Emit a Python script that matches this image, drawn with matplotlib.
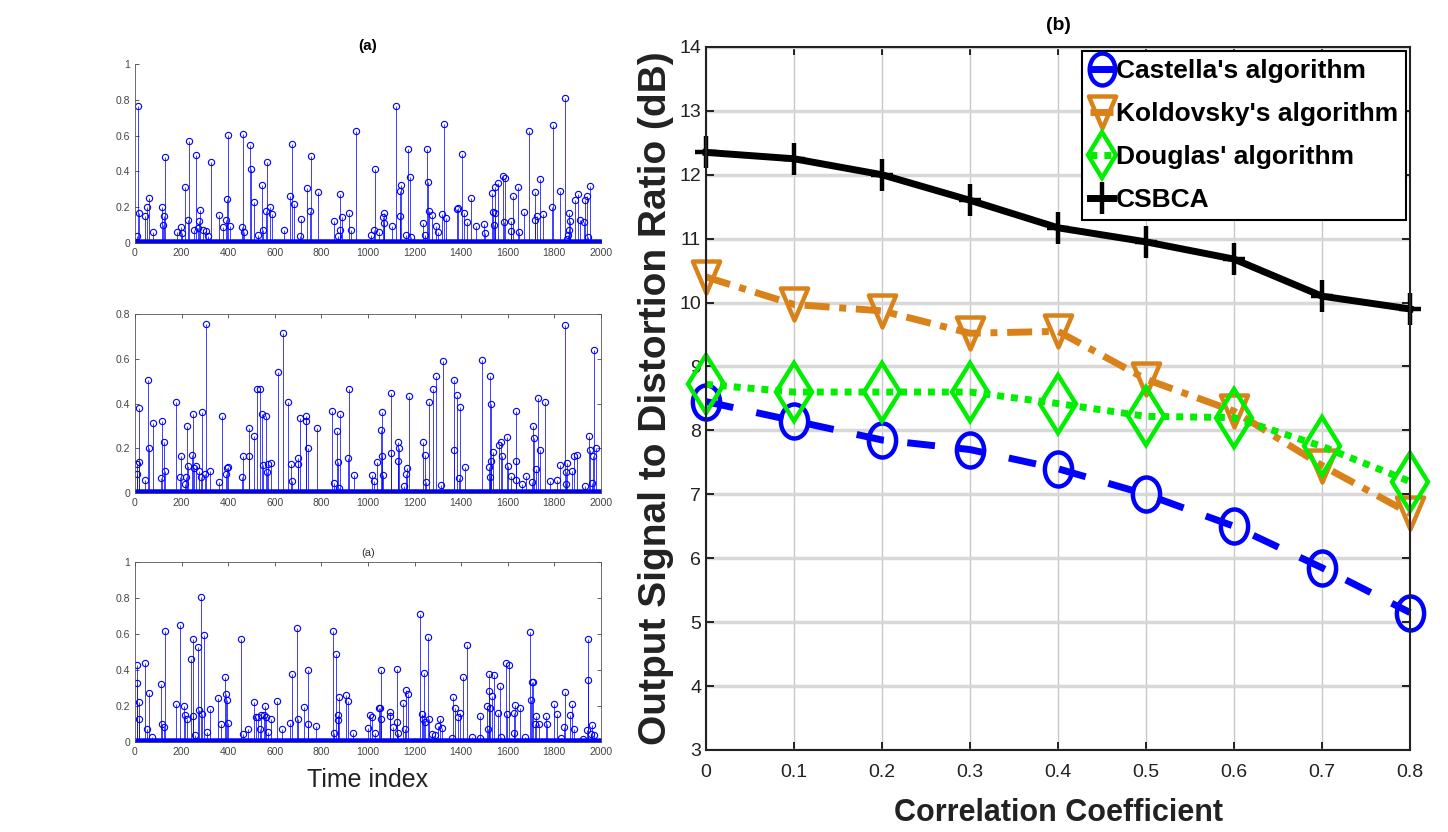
import matplotlib
matplotlib.use('Agg')
import matplotlib.pyplot as plt
import numpy as np
from matplotlib.path import Path

# --- left panel (a): sparse source signals, (index, amplitude) of visible stems ---
n_samples = 2000

top_idx = [11, 19, 19, 7, 7, 43, 53, 61, 79, 114, 126, 121, 129, 179, 196, 203, 216, 216, 226, 231,
           253, 261, 273, 280, 271, 293, 304, 313, 326, 361, 379, 390, 396, 401, 407, 460, 464, 469,
           493, 496, 513, 529, 547, 550, 564, 567, 581, 590, 639, 664, 674, 681, 714, 707, 740, 750,
           754, 787, 854, 871, 879, 881, 887, 919, 927, 950, 1014, 1024, 1030, 1046, 1064, 1071,
           1069, 1104, 1119, 1136, 1140, 1138, 1164, 1173, 1180, 1183, 1236, 1246, 1253, 1257, 1260,
           1274, 1293, 1301, 1316, 1326, 1336, 1381, 1387, 1404, 1411, 1426, 1443, 1464, 1497, 1503,
           1533, 1536, 1540, 1544, 1547, 1560, 1579, 1589, 1586, 1614, 1612, 1623, 1646, 1647, 1671,
           1690, 1719, 1717, 1727, 1739, 1753, 1790, 1793, 1824, 1846, 1853, 1890, 1900, 1909, 1864,
           1866, 1862, 1857, 1926, 1933, 1939, 1954, 1946]
top_val = [0.766, 0.25, 0.17, 0.13, 0.04, 0.15, 0.2, 0.25, 0.06, 0.2, 0.15, 0.1, 0.48, 0.06, 0.09,
           0.055, 0.44, 0.31, 0.13, 0.57, 0.075, 0.49, 0.125, 0.185, 0.085, 0.075, 0.065, 0.04, 0.455,
           0.155, 0.09, 0.13, 0.245, 0.605, 0.095, 0.09, 0.61, 0.06, 0.55, 0.415, 0.23, 0.045, 0.325,
           0.075, 0.18, 0.45, 0.2, 0.16, 0.07, 0.265, 0.555, 0.215, 0.135, 0.04, 0.305, 0.18, 0.485,
           0.285, 0.12, 0.04, 0.07, 0.275, 0.145, 0.17, 0.07, 0.625, 0.045, 0.07, 0.415, 0.06, 0.145,
           0.17, 0.11, 0.095, 0.766, 0.29, 0.325, 0.15, 0.045, 0.525, 0.37, 0.035, 0.11, 0.045, 0.525,
           0.34, 0.18, 0.155, 0.095, 0.06, 0.16, 0.665, 0.14, 0.19, 0.195, 0.5, 0.165, 0.115, 0.25,
           0.095, 0.105, 0.055, 0.28, 0.175, 0.1, 0.17, 0.31, 0.335, 0.375, 0.365, 0.115, 0.125,
           0.065, 0.265, 0.315, 0.06, 0.175, 0.626, 0.285, 0.13, 0.152, 0.355, 0.16, 0.2, 0.66, 0.29,
           0.812, 0.02, 0.24, 0.275, 0.13, 0.17, 0.12, 0.075, 0.045, 0.115, 0.24, 0.265, 0.32, 0.035]

mid_idx = [7, 8, 19, 18, 54, 61, 43, 76, 117, 110, 124, 127, 175, 197, 193, 215, 219, 222, 229, 243,
           247, 253, 262, 276, 282, 289, 300, 307, 322, 359, 375, 390, 393, 400, 459, 462, 489, 490,
           511, 525, 537, 544, 551, 561, 565, 572, 584, 612, 634, 658, 668, 675, 698, 699, 708, 733,
           734, 744, 783, 847, 856, 866, 873, 880, 877, 913, 920, 941, 1016, 1026, 1037, 1056, 1060,
           1061, 1063, 1099, 1097, 1129, 1132, 1130, 1155, 1163, 1169, 1175, 1235, 1245, 1248, 1263,
           1280, 1290, 1312, 1323, 1369, 1370, 1381, 1395, 1392, 1416, 1488, 1519, 1524, 1526, 1527,
           1530, 1538, 1562, 1573, 1574, 1599, 1602, 1612, 1635, 1636, 1634, 1660, 1678, 1710, 1711,
           1705, 1721, 1731, 1738, 1762, 1781, 1824, 1812, 1845, 1853, 1850, 1851, 1874, 1886, 1896,
           1932, 1950, 1953, 1960, 1964, 1970, 1979]
mid_val = [0.13, 0.085, 0.14, 0.38, 0.505, 0.2, 0.06, 0.315, 0.32, 0.065, 0.23, 0.1, 0.405, 0.165,
           0.07, 0.04, 0.07, 0.3, 0.12, 0.17, 0.355, 0.11, 0.12, 0.1, 0.07, 0.36, 0.085, 0.755, 0.1,
           0.05, 0.345, 0.085, 0.11, 0.115, 0.07, 0.165, 0.29, 0.165, 0.255, 0.465, 0.465, 0.355,
           0.125, 0.345, 0.095, 0.13, 0.135, 0.54, 0.715, 0.405, 0.13, 0.055, 0.155, 0.13, 0.335,
           0.345, 0.32, 0.2, 0.29, 0.365, 0.045, 0.275, 0.14, 0.355, 0.02, 0.155, 0.465, 0.08, 0.08,
           0.055, 0.14, 0.28, 0.36, 0.165, 0.08, 0.18, 0.445, 0.23, 0.2, 0.145, 0.03, 0.085, 0.11,
           0.435, 0.23, 0.17, 0.05, 0.405, 0.465, 0.525, 0.035, 0.59, 0.505, 0.19, 0.44, 0.385, 0.065,
           0.115, 0.595, 0.115, 0.07, 0.525, 0.4, 0.145, 0.185, 0.215, 0.23, 0.165, 0.25, 0.12, 0.075,
           0.365, 0.145, 0.06, 0.04, 0.075, 0.3, 0.245, 0.05, 0.105, 0.425, 0.19, 0.405, 0.055, 0.125,
           0.057, 0.75, 0.135, 0.095, 0.04, 0.1, 0.165, 0.17, 0.03, 0.255, 0.19, 0.045, 0.165, 0.64,
           0.2]

bot_idx = [7, 8, 19, 18, 43, 53, 62, 75, 110, 118, 126, 129, 175, 194, 212, 215, 222, 242, 248, 247,
           258, 271, 277, 284, 288, 298, 308, 320, 358, 370, 387, 391, 397, 398, 454, 462, 487, 509,
           520, 530, 541, 537, 552, 559, 563, 571, 584, 609, 631, 667, 674, 695, 700, 727, 743, 744,
           777, 849, 853, 863, 872, 873, 877, 907, 915, 936, 1002, 1011, 1018, 1032, 1049, 1053, 1054,
           1058, 1094, 1095, 1108, 1123, 1125, 1128, 1151, 1158, 1164, 1171, 1223, 1230, 1237, 1240,
           1243, 1257, 1261, 1276, 1286, 1301, 1309, 1319, 1362, 1365, 1373, 1386, 1395, 1409, 1426,
           1448, 1481, 1482, 1513, 1517, 1519, 1520, 1523, 1533, 1541, 1558, 1566, 1570, 1594, 1595,
           1606, 1627, 1628, 1630, 1653, 1673, 1696, 1702, 1703, 1707, 1720, 1717, 1735, 1763, 1770,
           1799, 1813, 1828, 1842, 1845, 1867, 1878, 1885, 1921, 1940, 1943, 1946, 1957, 1961, 1971]
bot_val = [0.425, 0.33, 0.22, 0.13, 0.44, 0.07, 0.27, 0.03, 0.32, 0.1, 0.085, 0.615, 0.21, 0.65,
           0.2, 0.15, 0.13, 0.46, 0.57, 0.145, 0.04, 0.53, 0.175, 0.805, 0.155, 0.595, 0.055, 0.185,
           0.245, 0.1, 0.36, 0.265, 0.235, 0.107, 0.57, 0.045, 0.07, 0.22, 0.14, 0.14, 0.15, 0.07,
           0.148, 0.2, 0.14, 0.055, 0.125, 0.23, 0.07, 0.107, 0.375, 0.635, 0.125, 0.195, 0.4, 0.1,
           0.087, 0.615, 0.05, 0.49, 0.148, 0.12, 0.25, 0.26, 0.225, 0.05, 0.078, 0.152, 0.14, 0.052,
           0.19, 0.19, 0.13, 0.4, 0.167, 0.143, 0.083, 0.407, 0.11, 0.05, 0.218, 0.07, 0.29, 0.265,
           0.71, 0.155, 0.125, 0.385, 0.11, 0.583, 0.13, 0.046, 0.037, 0.09, 0.13, 0.08, 0.024, 0.25,
           0.19, 0.14, 0.163, 0.36, 0.54, 0.03, 0.145, 0.024, 0.2, 0.074, 0.375, 0.283, 0.19, 0.254,
           0.37, 0.163, 0.31, 0.03, 0.44, 0.154, 0.43, 0.16, 0.05, 0.203, 0.19, 0.03, 0.61, 0.235,
           0.333, 0.333, 0.143, 0.102, 0.102, 0.143, 0.102, 0.21, 0.154, 0.022, 0.083, 0.28, 0.148,
           0.213, 0.074, 0.018, 0.068, 0.346, 0.57, 0.046, 0.093, 0.037]

# --- right panel (b): output SDR vs correlation coefficient ---
corr = [0, 0.1, 0.2, 0.3, 0.4, 0.5, 0.6, 0.7, 0.8]
castella = [8.45, 8.15, 7.85, 7.7, 7.4, 7.0, 6.5, 5.85, 5.15]
koldovsky = [10.4, 9.97, 9.87, 9.52, 9.55, 8.8, 8.3, 7.45, 6.7]
douglas = [8.72, 8.6, 8.6, 8.6, 8.42, 8.22, 8.2, 7.75, 7.2]
csbca = [12.35, 12.25, 12.0, 11.6, 11.17, 10.95, 10.68, 10.1, 9.9]

plt.rcParams['font.family'] = ['Liberation Sans', 'DejaVu Sans']

fig = plt.figure(figsize=(14.48, 8.32), dpi=100)


def full_signal(idx, val):
    s = np.zeros(n_samples)
    s[np.array(idx)] = np.array(val)
    return s


def stem_panel(rect, idx, val, ymax, box=True):
    ax = fig.add_axes(rect)
    sig = full_signal(idx, val)
    ml, sl, bl = ax.stem(np.arange(n_samples), sig, basefmt=' ')
    plt.setp(sl, color='#0000ff', linewidth=0.7, alpha=0.75)
    plt.setp(ml, color='#0000ff', markersize=4.5, markerfacecolor='none', markeredgewidth=0.8)
    ax.set_xlim(0, 2000)
    ax.set_ylim(0, ymax)
    ax.set_xticks(np.arange(0, 2001, 200))
    ax.set_yticks(np.round(np.arange(0, ymax + 0.01, 0.2), 1))
    ax.set_yticklabels([f'{t:g}' for t in ax.get_yticks()])
    ax.tick_params(direction='in', labelsize=7.5, colors='#444444', length=3, width=0.6)
    for sp in ax.spines.values():
        sp.set_color('#555555')
        sp.set_linewidth(0.6)
    if box:
        ax.tick_params(top=True, right=True)
    else:
        ax.spines['top'].set_visible(False)
        ax.spines['right'].set_visible(False)
    return ax


ax1 = stem_panel([0.0932, 0.708, 0.3218, 0.215], top_idx, top_val, 1.0, box=False)
ax1.set_title('(a)', fontsize=11, fontweight='bold', pad=10)
ax2 = stem_panel([0.0932, 0.4075, 0.3218, 0.215], mid_idx, mid_val, 0.8)
ax3 = stem_panel([0.0932, 0.1082, 0.3218, 0.2163], bot_idx, bot_val, 1.0)
ax3.set_title('(a)', fontsize=8, pad=4, color='#333333')
ax3.set_xlabel('Time index', fontsize=18, color='#222222', labelpad=8)

# --- right panel ---
axb = fig.add_axes([0.4876, 0.0986, 0.4862, 0.845])

# the exported figure is stretched vertically, so markers are taller than wide
circ = Path.unit_circle()
ellipse = Path(circ.vertices * np.array([0.8, 1.0]), circ.codes)
tall_plus = Path([(-0.68, 0), (0.68, 0), (0, -1), (0, 1)],
                 [Path.MOVETO, Path.LINETO, Path.MOVETO, Path.LINETO])
tri_down = Path([(0, -1), (-0.85, 1), (0.85, 1), (0, -1)],
                [Path.MOVETO, Path.LINETO, Path.LINETO, Path.CLOSEPOLY])

common = dict(linewidth=5, markerfacecolor='none', markeredgewidth=3.2, clip_on=False)
axb.plot(corr, castella, color='#0000ff', linestyle=(0, (4, 3.4)), marker=ellipse,
         markersize=24.5, label="Castella's algorithm", **common)
axb.plot(corr, koldovsky, color='#d9821a', linestyle=(0, (3.6, 1.4, 1, 1.4)), marker=tri_down,
         markersize=23, label="Koldovsky's algorithm", **common)
axb.plot(corr, douglas, color='#00ee00', linestyle=(0, (1, 1)), marker='d',
         markersize=30, label="Douglas' algorithm", **common)
axb.plot(corr, csbca, color='black', linestyle='-', marker=tall_plus,
         markersize=23, label='CSBCA', **common)

axb.set_xlim(0, 0.8)
axb.set_ylim(3, 14)
axb.set_xticks(corr)
axb.set_xticklabels([f'{c:g}' for c in corr])
axb.set_yticks(range(3, 15))
axb.grid(axis='x', color='#c8c8c8', linewidth=1.0)
axb.grid(axis='y', color='#d8d8d8', linewidth=2.5)
axb.set_axisbelow(True)
axb.tick_params(direction='in', top=True, right=True, length=6, width=1.2, labelsize=14)
axb.tick_params(axis='x', pad=10)
for lab in axb.get_xticklabels() + axb.get_yticklabels():
    lab.set_color('#222222')
for sp in axb.spines.values():
    sp.set_linewidth(1.5)
    sp.set_color('#222222')

axb.set_title('(b)', fontsize=14, fontweight='bold', pad=12)
axb.set_xlabel('Correlation Coefficient', fontsize=22, fontweight='bold',
               color='#222222', labelpad=12)
axb.set_ylabel('Output Signal to Distortion Ratio (dB)', fontsize=28, fontweight='bold',
               color='#222222', labelpad=4)

leg = axb.legend(loc='upper right', handlelength=0.9, handletextpad=0.1,
                 borderaxespad=0.15, borderpad=0.3, labelspacing=0.72, fancybox=False,
                 framealpha=1, prop={'weight': 'bold', 'size': 19})
leg.get_frame().set_edgecolor('black')
leg.get_frame().set_linewidth(1.5)
for h in leg.legend_handles:
    h.set_markersize(23)

fig.savefig('out.png', dpi=100)
